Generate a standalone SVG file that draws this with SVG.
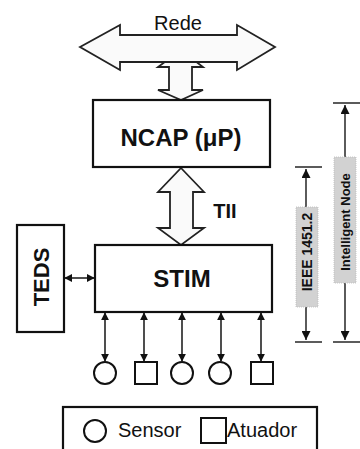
<svg xmlns="http://www.w3.org/2000/svg" width="360" height="449" viewBox="0 0 360 449">
<style>
.box{fill:#fff;stroke:#111;stroke-width:2.2}
.big{fill:#fafafa;stroke:#222;stroke-width:1.8;stroke-linejoin:miter}
.t{font-family:"Liberation Sans",Arial,sans-serif;fill:#111}
.b{font-weight:bold}
.ln{stroke:#222;stroke-width:1.6;fill:none}
.dim{stroke:#333;stroke-width:1.6;fill:none}
.lbl{fill:#d2d2d2;stroke:#bbb;stroke-width:0.8;stroke-dasharray:1 1}
.shape{fill:#fff;stroke:#111;stroke-width:2}
</style>
<defs>
<marker id="ah" viewBox="0 0 10 10" refX="9" refY="5" markerWidth="8" markerHeight="8" orient="auto-start-reverse" markerUnits="userSpaceOnUse">
<path d="M0,0 L10,5 L0,10 z" fill="#111"/>
</marker>
<marker id="dh" viewBox="0 0 10 10" refX="10" refY="5" markerWidth="10" markerHeight="9" orient="auto-start-reverse" markerUnits="userSpaceOnUse">
<path d="M0,0 L10,5 L0,10 z" fill="#111"/>
</marker>
</defs>

<g id="connectors">
<polygon id="link-rede-ncap" class="big" points="181,50 203,67 192,67 192,90 203,90 181,100 158,90 169,90 169,67 158,67"/>
<polygon id="link-tii" class="big" points="181,168 204,192 193,192 193,228 204,228 181,245 158,228 170,228 170,192 158,192"/>
<line class="ln" x1="65" y1="278" x2="94" y2="278" marker-start="url(#ah)" marker-end="url(#ah)"/>
<line class="ln" x1="105" y1="313" x2="105" y2="361" marker-start="url(#ah)" marker-end="url(#ah)"/>
<line class="ln" x1="144" y1="313" x2="144" y2="361" marker-start="url(#ah)" marker-end="url(#ah)"/>
<line class="ln" x1="182" y1="313" x2="182" y2="361" marker-start="url(#ah)" marker-end="url(#ah)"/>
<line class="ln" x1="221" y1="313" x2="221" y2="361" marker-start="url(#ah)" marker-end="url(#ah)"/>
<line class="ln" x1="261" y1="313" x2="261" y2="361" marker-start="url(#ah)" marker-end="url(#ah)"/>
</g>

<g id="rede">
<polygon class="big" points="80,47 120,25 120,35 237,35 237,25 275,47 237,70 237,62 120,62 120,70"/>
<text class="t" x="178" y="30" font-size="20" text-anchor="middle">Rede</text>
</g>

<g id="tii-label">
<text class="t b" x="225" y="218" font-size="20" text-anchor="middle">TII</text>
</g>

<g id="ncap">
<rect class="box" x="93" y="100" width="177" height="67"/>
<text class="t b" x="181" y="146" font-size="24" text-anchor="middle">NCAP (μP)</text>
</g>

<g id="stim">
<rect class="box" x="95" y="245" width="177" height="67"/>
<text class="t b" x="182" y="287" font-size="24" text-anchor="middle">STIM</text>
</g>

<g id="teds">
<rect class="box" x="17" y="225" width="47" height="107"/>
<text class="t b" transform="translate(49,277) rotate(-90)" font-size="22" text-anchor="middle">TEDS</text>
</g>

<g id="devices">
<circle class="shape" cx="105" cy="373" r="11"/>
<rect class="shape" x="135" y="362" width="22" height="22"/>
<circle class="shape" cx="182" cy="373" r="11"/>
<circle class="shape" cx="220" cy="373" r="11"/>
<rect class="shape" x="251" y="362" width="22" height="22"/>
</g>

<g id="dim-ieee">
<line class="dim" x1="295" y1="167" x2="322" y2="167"/>
<line class="dim" x1="295" y1="342" x2="322" y2="342"/>
<line class="dim" x1="306" y1="169" x2="306" y2="340" marker-start="url(#dh)" marker-end="url(#dh)"/>
<rect class="lbl" x="296" y="207" width="22" height="100"/>
<text class="t b" transform="translate(312,252) rotate(-90)" font-size="14" text-anchor="middle">IEEE 1451.2</text>
</g>

<g id="dim-node">
<line class="dim" x1="333" y1="103" x2="360" y2="103"/>
<line class="dim" x1="333" y1="342" x2="360" y2="342"/>
<line class="dim" x1="345" y1="105" x2="345" y2="340" marker-start="url(#dh)" marker-end="url(#dh)"/>
<rect class="lbl" x="334" y="157" width="22" height="126"/>
<text class="t b" transform="translate(350,222) rotate(-90)" font-size="13" text-anchor="middle">Intelligent Node</text>
</g>

<g id="legend">
<rect class="box" x="63" y="407" width="254" height="50"/>
<circle class="shape" cx="95" cy="431" r="11"/>
<text class="t" x="118" y="437" font-size="20">Sensor</text>
<rect class="shape" x="201" y="418" width="25" height="25"/>
<text class="t" x="227" y="437" font-size="20">Atuador</text>
</g>
</svg>
